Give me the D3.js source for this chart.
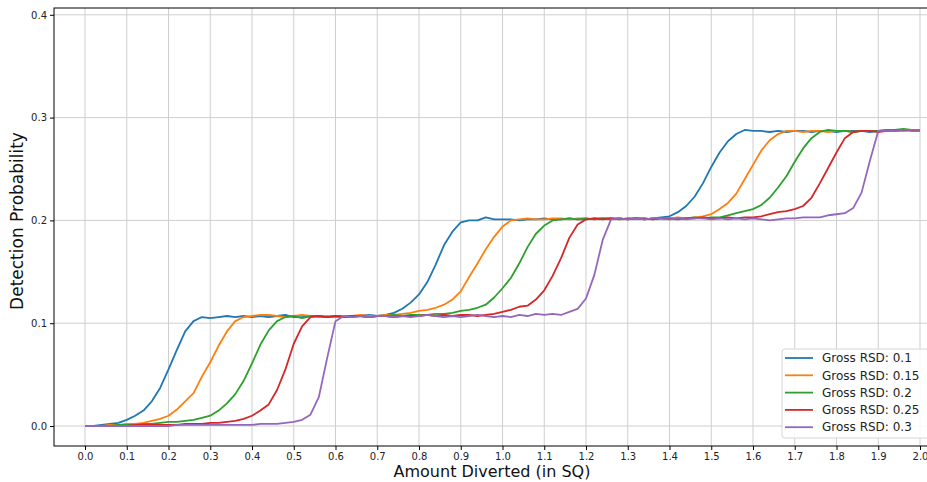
<!DOCTYPE html>
<html>
<head>
<meta charset="utf-8">
<script src="https://cdn.jsdelivr.net/npm/d3@7"></script>
<style>
  html, body { margin: 0; padding: 0; background: #fff; }
  svg { display: block; font-family: "DejaVu Sans", sans-serif; }
</style>
</head>
<body>
<svg id="chart" width="927" height="482"></svg>
<script>
// ---- data ----
const amounts = [
  0.00,0.02,0.04,0.06,0.08,0.10,0.12,0.14,0.16,0.18,
  0.20,0.22,0.24,0.26,0.28,0.30,0.32,0.34,0.36,0.38,
  0.40,0.42,0.44,0.46,0.48,0.50,0.52,0.54,0.56,0.58,
  0.60,0.62,0.64,0.66,0.68,0.70,0.72,0.74,0.76,0.78,
  0.80,0.82,0.84,0.86,0.88,0.90,0.92,0.94,0.96,0.98,
  1.00,1.02,1.04,1.06,1.08,1.10,1.12,1.14,1.16,1.18,
  1.20,1.22,1.24,1.26,1.28,1.30,1.32,1.34,1.36,1.38,
  1.40,1.42,1.44,1.46,1.48,1.50,1.52,1.54,1.56,1.58,
  1.60,1.62,1.64,1.66,1.68,1.70,1.72,1.74,1.76,1.78,
  1.80,1.82,1.84,1.86,1.88,1.90,1.92,1.94,1.96,1.98,
  2.00
];
const seriesNames = ["Gross RSD: 0.1","Gross RSD: 0.15","Gross RSD: 0.2","Gross RSD: 0.25","Gross RSD: 0.3"];
const rsd010 = [
  0.000,0.000,0.001,0.002,0.003,0.006,0.010,0.015,0.024,0.037,
  0.055,0.074,0.092,0.102,0.106,0.105,0.106,0.107,0.106,0.107,
  0.106,0.107,0.106,0.107,0.108,0.106,0.106,0.107,0.107,0.106,
  0.107,0.107,0.106,0.107,0.108,0.107,0.108,0.110,0.114,0.120,
  0.128,0.140,0.157,0.176,0.189,0.198,0.200,0.200,0.203,0.201,
  0.201,0.201,0.200,0.201,0.201,0.202,0.201,0.201,0.202,0.201,
  0.201,0.202,0.202,0.201,0.202,0.201,0.202,0.201,0.202,0.203,
  0.204,0.208,0.214,0.223,0.236,0.252,0.266,0.277,0.284,0.288,
  0.287,0.287,0.286,0.287,0.286,0.287,0.287,0.286,0.287,0.287,
  0.286,0.287,0.287,0.287,0.286,0.287,0.287,0.288,0.287,0.288,
  0.288
];
const rsd015 = [
  0.000,0.000,0.000,0.001,0.001,0.002,0.002,0.003,0.005,0.007,
  0.010,0.016,0.024,0.032,0.048,0.062,0.078,0.092,0.102,0.106,
  0.107,0.108,0.108,0.107,0.106,0.107,0.108,0.107,0.106,0.107,
  0.106,0.107,0.107,0.108,0.107,0.107,0.108,0.108,0.109,0.110,
  0.112,0.113,0.115,0.118,0.123,0.131,0.145,0.158,0.172,0.184,
  0.194,0.200,0.201,0.202,0.201,0.201,0.202,0.202,0.201,0.202,
  0.202,0.201,0.202,0.202,0.201,0.202,0.202,0.202,0.201,0.202,
  0.202,0.203,0.202,0.203,0.204,0.206,0.211,0.217,0.226,0.240,
  0.254,0.268,0.278,0.284,0.287,0.287,0.286,0.287,0.287,0.286,
  0.287,0.287,0.286,0.287,0.287,0.287,0.288,0.287,0.287,0.288,
  0.288
];
const rsd020 = [
  0.000,0.000,0.000,0.000,0.001,0.001,0.001,0.002,0.002,0.003,
  0.004,0.004,0.005,0.006,0.008,0.010,0.015,0.022,0.031,0.044,
  0.061,0.079,0.093,0.102,0.106,0.107,0.105,0.107,0.107,0.106,
  0.107,0.106,0.107,0.107,0.106,0.107,0.107,0.108,0.107,0.108,
  0.108,0.108,0.109,0.109,0.110,0.112,0.113,0.115,0.118,0.125,
  0.134,0.144,0.158,0.174,0.187,0.195,0.200,0.201,0.202,0.201,
  0.202,0.201,0.202,0.202,0.201,0.202,0.202,0.201,0.202,0.202,
  0.201,0.202,0.202,0.203,0.202,0.203,0.203,0.205,0.207,0.209,
  0.211,0.215,0.222,0.232,0.243,0.257,0.270,0.280,0.286,0.288,
  0.287,0.287,0.286,0.287,0.287,0.287,0.288,0.288,0.289,0.288,
  0.288
];
const rsd025 = [
  0.000,0.000,0.000,0.000,0.000,0.000,0.001,0.001,0.001,0.001,
  0.001,0.001,0.002,0.002,0.002,0.003,0.003,0.004,0.005,0.007,
  0.010,0.015,0.021,0.035,0.055,0.080,0.097,0.106,0.107,0.106,
  0.107,0.106,0.107,0.107,0.106,0.107,0.107,0.106,0.107,0.107,
  0.107,0.108,0.107,0.108,0.107,0.108,0.108,0.107,0.108,0.109,
  0.111,0.113,0.116,0.117,0.123,0.132,0.146,0.163,0.183,0.196,
  0.201,0.202,0.201,0.202,0.202,0.201,0.202,0.202,0.201,0.202,
  0.202,0.201,0.202,0.202,0.203,0.202,0.202,0.203,0.202,0.203,
  0.203,0.204,0.206,0.208,0.209,0.211,0.214,0.222,0.236,0.251,
  0.266,0.280,0.286,0.287,0.287,0.286,0.287,0.287,0.288,0.287,
  0.287
];
const rsd030 = [
  0.000,0.000,0.000,0.000,0.000,0.000,0.000,0.000,0.000,0.000,
  0.000,0.001,0.001,0.001,0.001,0.001,0.001,0.001,0.001,0.001,
  0.001,0.002,0.002,0.002,0.003,0.004,0.006,0.011,0.028,0.066,
  0.102,0.107,0.106,0.107,0.106,0.107,0.107,0.106,0.107,0.106,
  0.107,0.108,0.107,0.106,0.107,0.106,0.107,0.108,0.107,0.106,
  0.107,0.106,0.108,0.107,0.109,0.108,0.109,0.108,0.111,0.114,
  0.124,0.147,0.181,0.201,0.202,0.201,0.202,0.201,0.202,0.202,
  0.201,0.202,0.201,0.202,0.202,0.201,0.202,0.201,0.202,0.201,
  0.202,0.201,0.200,0.201,0.202,0.202,0.203,0.203,0.203,0.205,
  0.206,0.207,0.212,0.227,0.258,0.287,0.287,0.287,0.288,0.288,
  0.288
];
const seriesValues = [rsd010, rsd015, rsd020, rsd025, rsd030];
const seriesColors = ["#1f77b4","#ff7f0e","#2ca02c","#d62728","#9467bd"];
const xTickValues = [0.0,0.1,0.2,0.3,0.4,0.5,0.6,0.7,0.8,0.9,1.0,1.1,1.2,1.3,1.4,1.5,1.6,1.7,1.8,1.9,2.0];
const yTickValues = [0.0,0.1,0.2,0.3,0.4];
const xTitle = "Amount Diverted (in SQ)";
const yTitle = "Detection Probability";

// ---- layout ----
const svg = d3.select("#chart");
const plot = { left: 54, right: 951, top: 8, bottom: 446 };
const x = d3.scaleLinear().domain([0, 2]).range([85, 920]);
const y = d3.scaleLinear().domain([0, 0.4]).range([426, 14.8]);

// grid
const grid = svg.append("g");
grid.selectAll("line.vx").data(xTickValues).join("line")
  .attr("x1", d => x(d)).attr("x2", d => x(d))
  .attr("y1", plot.top).attr("y2", plot.bottom)
  .attr("stroke", "#cfcfcf").attr("stroke-width", 1);
grid.selectAll("line.hy").data(yTickValues).join("line")
  .attr("y1", d => y(d)).attr("y2", d => y(d))
  .attr("x1", plot.left).attr("x2", plot.right)
  .attr("stroke", "#cfcfcf").attr("stroke-width", 1);

// lines
const line = d3.line().x((d, i) => x(amounts[i])).y(d => y(d));
svg.append("g").selectAll("path").data(seriesValues).join("path")
  .attr("d", d => line(d))
  .attr("fill", "none")
  .attr("stroke", (d, i) => seriesColors[i])
  .attr("stroke-width", 1.8)
  .attr("stroke-linejoin", "round");

// spines
svg.append("rect")
  .attr("x", plot.left).attr("y", plot.top)
  .attr("width", plot.right - plot.left).attr("height", plot.bottom - plot.top)
  .attr("fill", "none").attr("stroke", "#000").attr("stroke-width", 1);

// axes
const fmt = d3.format(".1f");
const xAxis = svg.append("g").attr("transform", `translate(0,${plot.bottom})`)
  .call(d3.axisBottom(x).tickValues(xTickValues).tickFormat(fmt).tickSize(4).tickPadding(3));
const yAxis = svg.append("g").attr("transform", `translate(${plot.left},0)`)
  .call(d3.axisLeft(y).tickValues(yTickValues).tickFormat(fmt).tickSize(4).tickPadding(3));
[xAxis, yAxis].forEach(g => {
  g.select(".domain").remove();
  g.selectAll(".tick line").attr("stroke", "#000");
  g.selectAll(".tick text").attr("fill", "#222")
    .style("font-family", "DejaVu Sans").style("font-size", "10px");
});

// titles
svg.append("text").text(xTitle)
  .attr("x", 492).attr("y", 477).attr("text-anchor", "middle")
  .style("font-size", "16px").attr("fill", "#111");
svg.append("text").text(yTitle)
  .attr("transform", "translate(23,221) rotate(-90)").attr("text-anchor", "middle")
  .style("font-size", "17px").attr("fill", "#111");

// legend
const leg = svg.append("g");
leg.append("rect").attr("x", 782).attr("y", 349).attr("width", 152).attr("height", 89)
  .attr("rx", 3).attr("fill", "#fff").attr("fill-opacity", 0.85)
  .attr("stroke", "#d5d5d5").attr("stroke-width", 1);
const items = leg.selectAll("g.item").data(seriesNames).join("g")
  .attr("transform", (d, i) => `translate(0,${358 + i * 17.3})`);
items.append("line").attr("x1", 785).attr("x2", 813).attr("y1", 0).attr("y2", 0)
  .attr("stroke", (d, i) => seriesColors[i]).attr("stroke-width", 1.8);
items.append("text").text(d => d).attr("x", 822).attr("y", 0).attr("dy", "0.35em")
  .style("font-size", "12px").attr("fill", "#222");
</script>
</body>
</html>
